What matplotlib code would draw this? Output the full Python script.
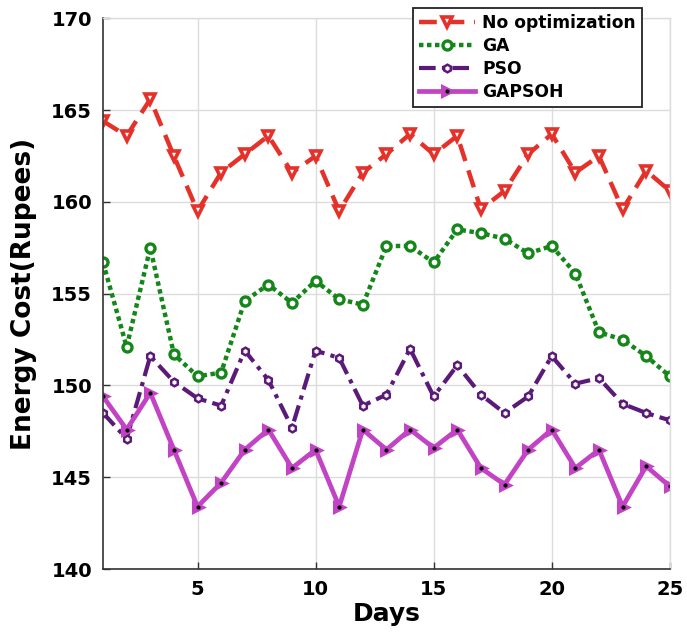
import matplotlib
matplotlib.use("Agg")
import matplotlib.pyplot as plt
from matplotlib.legend_handler import HandlerTuple

days = list(range(1, 26))

no_optimization = [164.4, 163.6, 165.6, 162.5, 159.5, 161.6, 162.6, 163.6, 161.6, 162.5,
                   159.5, 161.6, 162.6, 163.7, 162.6, 163.6, 159.6, 160.6, 162.6, 163.7,
                   161.6, 162.5, 159.6, 161.7, 160.6]
ga = [156.7, 152.1, 157.5, 151.7, 150.5, 150.7, 154.6, 155.5, 154.5, 155.7,
      154.7, 154.4, 157.6, 157.6, 156.7, 158.5, 158.3, 158.0, 157.2, 157.6,
      156.1, 152.9, 152.5, 151.6, 150.5]
pso = [148.5, 147.1, 151.6, 150.2, 149.3, 148.9, 151.9, 150.3, 147.7, 151.9,
       151.5, 148.9, 149.5, 152.0, 149.4, 151.1, 149.5, 148.5, 149.4, 151.6,
       150.1, 150.4, 149.0, 148.5, 148.1]
gapsoh = [149.4, 147.6, 149.6, 146.5, 143.4, 144.7, 146.5, 147.6, 145.5, 146.5,
          143.4, 147.6, 146.5, 147.6, 146.6, 147.6, 145.5, 144.6, 146.5, 147.6,
          145.5, 146.5, 143.4, 145.6, 144.5]

series_names = ["No optimization", "GA", "PSO", "GAPSOH"]
x_ticks = [5, 10, 15, 20, 25]
y_ticks = [140, 145, 150, 155, 160, 165, 170]

plt.rcParams["font.family"] = ["DejaVu Sans"]
plt.rcParams["font.weight"] = "bold"

fig = plt.figure(figsize=(6.87, 6.34), dpi=100)
ax = fig.add_axes([0.150, 0.1025, 0.825, 0.8685])

red = "#e4322b"
green = "#15871a"
purple = "#5b1a78"
magenta = "#c243c4"

l1, = ax.plot(days, no_optimization, color=red, lw=3.2, linestyle=(0, (4, 2.2)),
              marker="v", ms=6.5, mfc="white", mec=red, mew=2.6)
l2, = ax.plot(days, ga, color=green, lw=3.2, linestyle=(0, (1, 0.8)),
              marker="o", ms=6.5, mfc="white", mec=green, mew=2.4)
l3, = ax.plot(days, pso, color=purple, lw=3.0, linestyle=(0, (4, 1.5, 1, 1.5)),
              marker="h", ms=5.5, mfc="white", mec=purple, mew=1.8)
l4, = ax.plot(days, gapsoh, color=magenta, lw=3.4, linestyle="-",
              marker=">", ms=6.5, mfc=magenta, mec=magenta, mew=2.2)
l4dot, = ax.plot(days, gapsoh, linestyle="none", marker="o", ms=2.0,
                 mfc="black", mec="black")

ax.set_xlim(1, 25)
ax.set_ylim(140, 170)
ax.set_xticks(x_ticks)
ax.set_yticks(y_ticks)
ax.grid(True, color="#dcdcdc", lw=1.0)
ax.set_axisbelow(True)

for side in ("top", "right"):
    ax.spines[side].set_color("#dcdcdc")
    ax.spines[side].set_linewidth(1.0)
for side in ("left", "bottom"):
    ax.spines[side].set_color("#333333")
    ax.spines[side].set_linewidth(1.2)

ax.tick_params(axis="both", direction="in", length=5, width=1.0, color="#333333",
               labelsize=14, pad=8, top=False, right=False)
for lab in ax.get_xticklabels() + ax.get_yticklabels():
    lab.set_fontweight("bold")

ax.set_xlabel("Days", fontsize=18, fontweight="bold", labelpad=2)
ax.set_ylabel("Energy Cost(Rupees)", fontsize=19, fontweight="bold", labelpad=10)

leg = fig.legend([l1, l2, l3, (l4, l4dot)], series_names,
                 loc="upper left", bbox_to_anchor=(0.601, 0.988),
                 handler_map={tuple: HandlerTuple(ndivide=1, pad=0)},
                 prop={"weight": "bold", "size": 12.3}, frameon=True, fancybox=False,
                 edgecolor="#222222", framealpha=1, borderpad=0.35, labelspacing=0.3,
                 handlelength=3.3, handletextpad=0.4, borderaxespad=0)
leg.get_frame().set_linewidth(1.3)

fig.savefig("out.png", dpi=100, facecolor="white")
